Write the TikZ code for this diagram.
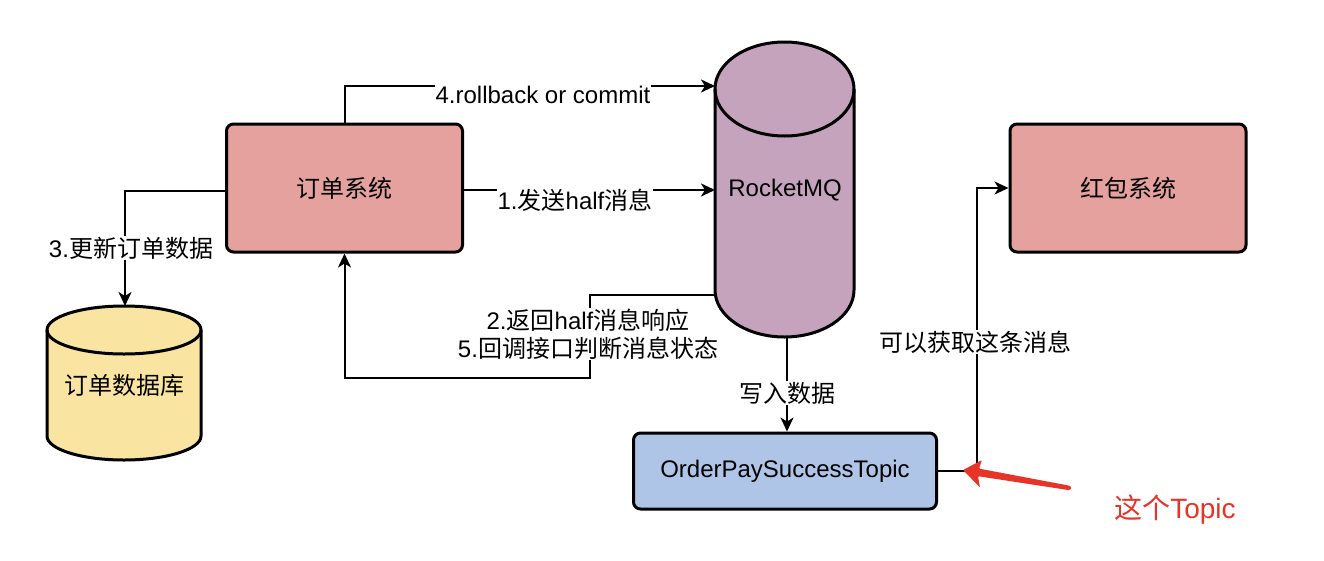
\documentclass[tikz,border=0pt]{standalone}
\usepackage{fontspec}
\setmainfont{Liberation Sans}
\newfontfamily\cjk{Noto Sans CJK SC}
\usetikzlibrary{arrows.meta}
\newcommand{\zh}[1]{{\cjk #1}}
\definecolor{pinkfill}{RGB}{229,161,157}
\definecolor{mqfill}{RGB}{197,163,189}
\definecolor{dbfill}{RGB}{249,228,162}
\definecolor{topicfill}{RGB}{174,197,232}
\definecolor{redmark}{RGB}{230,52,40}
\begin{document}
\begin{tikzpicture}[x=1pt,y=-1pt,
  txt/.style={font=\fontsize{24}{28}\selectfont},
  box/.style={draw=black, line width=3pt, rounded corners=7pt, txt, inner sep=0pt},
  conn/.style={draw=black, line width=2pt, -{Stealth[length=14pt,width=13pt,inset=4pt]}},
  line/.style={draw=black, line width=2pt},
  lbl/.style={txt, fill=white, inner sep=1pt, align=center}]
\useasboundingbox (0,0) rectangle (1324,560);

% boxes
\node[box, fill=pinkfill, minimum width=236pt, minimum height=128pt] (os) at (344.5,188) {\zh{订单系统}};
\node[box, fill=pinkfill, minimum width=236pt, minimum height=128pt] (hb) at (1128,188) {\zh{红包系统}};
\node[box, fill=topicfill, minimum width=303pt, minimum height=76pt] (topic) at (785,471) {OrderPaySuccessTopic};

% RocketMQ cylinder
\path[draw=black, line width=3pt, fill=mqfill]
  (715,89) -- (715,290) arc (180:0:69.5 and 47) -- (854,89) arc (0:-180:69.5 and 47) -- cycle;
\draw[line width=3pt] (715,89) arc (180:0:69.5 and 47);
\node[txt] (mq) at (785,190) {RocketMQ};

% DB cylinder
\path[draw=black, line width=3pt, fill=dbfill]
  (47,330) -- (47,436) arc (180:0:77 and 24) -- (201,330) arc (0:-180:77 and 24) -- cycle;
\draw[line width=3pt] (47,330) arc (180:0:77 and 24);
\node[txt] (db) at (124,385) {\zh{订单数据库}};

% anchor coordinates
\coordinate (mq4) at (715,86);
\coordinate (mq1) at (715,190);
\coordinate (mq2) at (715,295);
\coordinate (mqb) at (787,337);
\coordinate (dbt) at (125,306);
\coordinate (c2a) at (590,295);
\coordinate (c2b) at (590,378);
\coordinate (c2c) at (344.5,378);
\coordinate (c3a) at (125,191);
\coordinate (tb) at (977,471);

% connectors
\draw[conn] (os.north) |- (mq4);
\draw[conn] (os.east |- mq1) -- (mq1);
\draw[conn] (mq2) -- (c2a) -- (c2b) -- (c2c) -- (os.south);
\draw[conn] (os.west |- c3a) -- (c3a) -- (dbt);
\draw[conn] (mqb) -- (mqb |- topic.north);
\draw[conn] (topic.east) -- (tb) |- (hb.west);

% labels
\node[lbl] (l4) at (543,95) {4.rollback or commit};
\node[lbl] (l1) at (575,200) {1.\zh{发送}half\zh{消息}};
\node[lbl] (l25) at (588,334) {2.\zh{返回}half\zh{消息响应}\\5.\zh{回调接口判断消息状态}};
\node[lbl] (l3) at (131,248) {3.\zh{更新订单数据}};
\node[lbl] (lw) at (787,393) {\zh{写入数据}};
\node[lbl] (lk) at (975,342) {\zh{可以获取这条消息}};

% red annotation
\fill[redmark, rounded corners=1pt] (963,470) -- (982,460) -- (979,468.6) -- (1070,485.8)
  -- (1071.5,488) -- (1069.5,490.2) -- (978,476.2) -- (980,487.5) -- cycle;
\node[txt, text=redmark, font=\fontsize{28}{32}\selectfont] (tp) at (1175,510) {\zh{这个}Topic};
\end{tikzpicture}
\end{document}
